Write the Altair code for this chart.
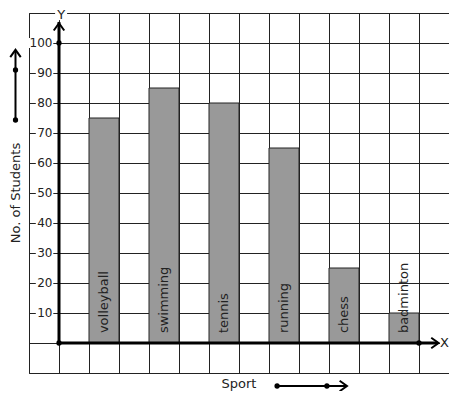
import altair as alt
import pandas as pd

sports = ["volleyball", "swimming", "tennis", "running", "chess", "badminton"]
students = [75, 85, 80, 65, 25, 10]
y_tick_values = [10, 20, 30, 40, 50, 60, 70, 80, 90, 100]
x_title = "Sport"
y_title = "No. of Students"

FONT = "DejaVu Sans"
INK = "#222222"
PX = 1 / 30.0   # one pixel in x units
PY = 1 / 3.0    # one pixel in y units

XS = alt.Scale(domain=[-1, 13], nice=False, zero=False)
YS = alt.Scale(domain=[-10, 110], nice=False, zero=False)

grid_axis_x = alt.Axis(values=list(range(-1, 14)), grid=True, labels=False, ticks=False,
                       domain=False, title=None, gridColor=INK, gridOpacity=1, gridWidth=1)
grid_axis_y = alt.Axis(values=list(range(-10, 111, 10)), grid=True, labels=False, ticks=False,
                       domain=False, title=None, gridColor=INK, gridOpacity=1, gridWidth=1)


def X(f):
    return alt.X(f, type="quantitative", scale=XS, axis=grid_axis_x)


def Y(f):
    return alt.Y(f, type="quantitative", scale=YS, axis=grid_axis_y)


bars_df = pd.DataFrame({
    "sport": sports,
    "students": students,
    "x": [2 * i + 1 for i in range(len(sports))],
    "x2": [2 * i + 2 for i in range(len(sports))],
    "xc": [2 * i + 1.5 for i in range(len(sports))],
    "y0": [0] * len(sports),
    "ylab": [3.3] * len(sports),
})

bars = alt.Chart(bars_df).mark_bar(color="#999999", stroke=INK, strokeWidth=1).encode(
    x=X("x"), x2="x2:Q", y=Y("students"), y2="y0:Q",
)

bar_labels = alt.Chart(bars_df).mark_text(
    angle=270, align="left", baseline="middle", fontSize=13, font=FONT, color=INK
).encode(x=X("xc"), y=Y("ylab"), text="sport:N")

# y tick labels sit on the grid lines with a white patch behind them
lab_right = -6.5 * PX
ylab_df = pd.DataFrame({
    "v": y_tick_values,
    "t": [str(v) for v in y_tick_values],
    "xp": [lab_right] * len(y_tick_values),
    "bx": [lab_right - (len(str(v)) * 7.6 + 1.5) * PX for v in y_tick_values],
    "bx2": [lab_right + 0.8 * PX] * len(y_tick_values),
    "by": [v - 5 * PY for v in y_tick_values],
    "by2": [v + 5 * PY for v in y_tick_values],
})
y_label_bg = alt.Chart(ylab_df).mark_rect(color="white", opacity=1).encode(
    x=X("bx"), x2="bx2:Q", y=Y("by"), y2="by2:Q",
)
y_labels = alt.Chart(ylab_df).mark_text(
    align="right", baseline="middle", fontSize=12, font=FONT, color=INK
).encode(x=X("xp"), y=Y("v"), text="t:N")

axes_df = pd.DataFrame({"x": [0, 0], "x2": [0, 12.62], "y": [0, 0], "y2": [107, 0]})
axes_lines = alt.Chart(axes_df).mark_rule(color="black", strokeWidth=3).encode(
    x=X("x"), x2="x2:Q", y=Y("y"), y2="y2:Q",
)

side_df = pd.DataFrame({
    "x": [-1.45, 7.27], "x2": [-1.45, 9.58], "y": [74.33, -14.33], "y2": [97.6, -14.33],
})
side_lines = alt.Chart(side_df).mark_rule(color="black", strokeWidth=2).encode(
    x=X("x"), x2="x2:Q", y=Y("y"), y2="y2:Q",
)

dots_df = pd.DataFrame({
    "x": [0, 0, 12, -1.45, -1.45, 7.27, 8.93],
    "y": [0, 100, 0, 74.33, 91, -14.33, -14.33],
})
dots = alt.Chart(dots_df).mark_point(filled=True, shape="circle", size=28, color="black", opacity=1).encode(
    x=X("x"), y=Y("y"),
)

UP = "M-1,0.7 L0,-0.7 L1,0.7"
RIGHT = "M-0.7,-1 L0.7,0 L-0.7,1"
heads_df = pd.DataFrame({
    "x": [0, -1.45, 12.53, 9.477],
    "y": [105.4, 96.5, 0, -14.33],
    "shape": [UP, UP, RIGHT, RIGHT],
})
heads = alt.Chart(heads_df).mark_point(filled=False, size=110, color="black", strokeWidth=2, opacity=1).encode(
    x=X("x"), y=Y("y"), shape=alt.Shape("shape:N", scale=None),
)

# white patches behind the "Y" and "X" labels where they cross the grid border
lbg_df = pd.DataFrame({
    "x": [0.07 - 6 * PX, 13.0 - 9 * PX],
    "x2": [0.07 + 6 * PX, 13.0],
    "y": [109.3 - 5 * PY, -6 * PY],
    "y2": [110 + 2 * PY, 6 * PY],
})
lbg = alt.Chart(lbg_df).mark_rect(color="white", opacity=1).encode(
    x=X("x"), x2="x2:Q", y=Y("y"), y2="y2:Q",
)

tx_df = pd.DataFrame({
    "x": [0.07, 6.0],
    "y": [109.2, -13.83],
    "t": ["Y", x_title],
})
texts_c = alt.Chart(tx_df).mark_text(
    align="center", baseline="middle", fontSize=13, font=FONT, color=INK
).encode(x=X("x"), y=Y("y"), text="t:N")

xl_df = pd.DataFrame({"x": [13.0], "y": [0], "t": ["X"]})
text_x = alt.Chart(xl_df).mark_text(
    align="right", baseline="middle", fontSize=13, font=FONT, color=INK
).encode(x=X("x"), y=Y("y"), text="t:N")

ytitle_df = pd.DataFrame({"x": [-1.45], "y": [50], "t": [y_title]})
ytitle = alt.Chart(ytitle_df).mark_text(
    angle=270, align="center", baseline="middle", fontSize=13, font=FONT, color=INK
).encode(x=X("x"), y=Y("y"), text="t:N")

chart = alt.layer(
    bars, bar_labels, y_label_bg, y_labels, lbg, axes_lines, side_lines, dots, heads,
    texts_c, text_x, ytitle
).properties(
    width=420, height=360,
    autosize=alt.AutoSizeParams(type="none"),
    padding={"left": 21, "top": 5, "right": 0, "bottom": 18},
    background="white",
).configure_view(stroke=INK, strokeWidth=1)

chart.save("out.html", embed_options={"renderer": "svg", "actions": False})
